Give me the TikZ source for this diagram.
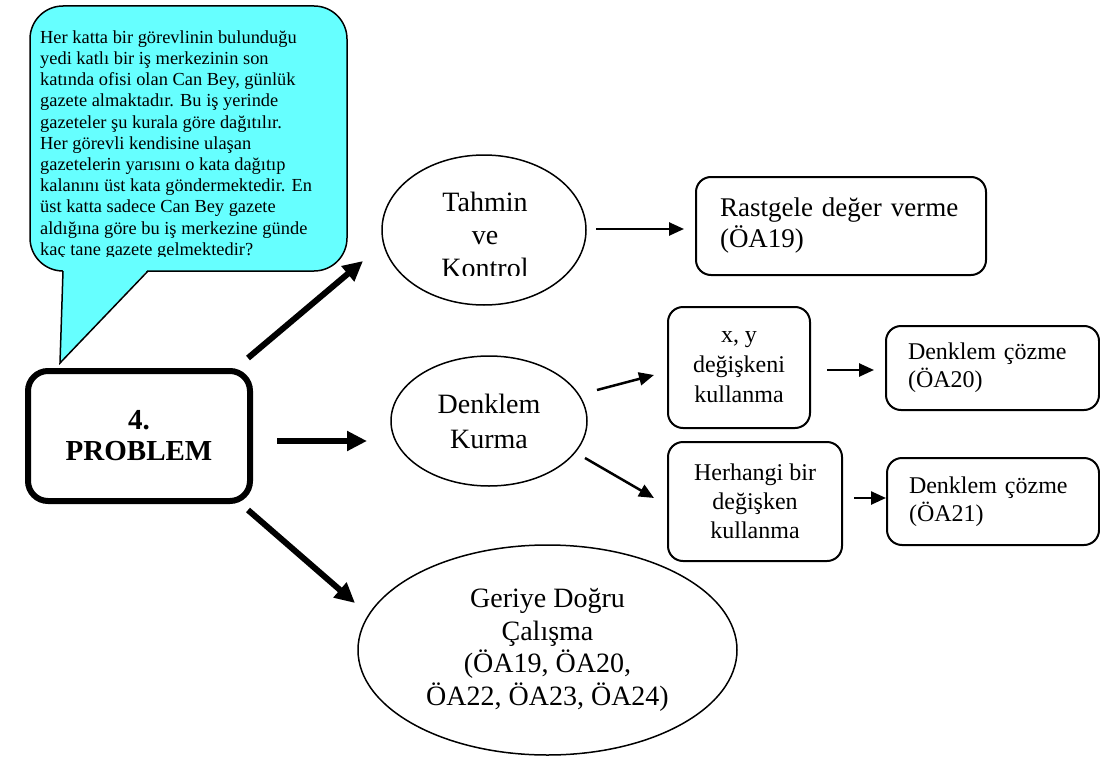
\documentclass[tikz,border=0pt]{standalone}
\usepackage{fontspec}
\setmainfont{Liberation Serif}
\usetikzlibrary{arrows.meta,shapes.geometric}
\definecolor{bubblecyan}{RGB}{102,255,255}
\tikzset{
  bubble/.style={draw=black, fill=bubblecyan, line width=1.5pt, rounded corners=33pt, inner sep=0pt, outer sep=0pt},
  bubbletext/.style={anchor=north west, inner sep=0pt, align=left, font=\fontsize{18.4}{21.2}\selectfont},
  problem/.style={draw=black, line width=6pt, rounded corners=20pt, minimum width=222pt, minimum height=130pt, inner sep=0pt, outer sep=0pt, align=center, font=\fontsize{29}{31}\selectfont\bfseries},
  method/.style={ellipse, draw=black, line width=1.5pt, inner sep=0pt, outer sep=0pt, align=center, font=\fontsize{28}{33}\selectfont},
  methodtext/.style={inner sep=0pt, align=center, font=\fontsize{28}{33}\selectfont},
  guessbox/.style={draw=black, line width=2pt, rounded corners=15pt, text width=242pt, inner xsep=24pt, inner ysep=0pt, minimum height=98pt, outer sep=0pt, align=left, font=\fontsize{27}{31}\selectfont},
  stepbox/.style={draw=black, line width=2pt, rounded corners=15pt, inner sep=0pt, outer sep=0pt, align=center, font=\fontsize{24}{29}\selectfont},
  resultbox/.style={draw=black, line width=2pt, rounded corners=15pt, text width=169pt, inner xsep=22pt, inner ysep=0pt, outer sep=0pt, align=left, font=\fontsize{24}{27.6}\selectfont},
  arrow/.style={-{Triangle[length=15pt,width=13pt]}, line width=2.5pt},
  bigarrow/.style={-{Triangle[length=20pt,width=19pt]}, line width=6pt}
}
\begin{document}
\begin{tikzpicture}[x=1pt, y=-1pt]
  \useasboundingbox (0,0) rectangle (1100,760);

  % speech bubble with the problem text
  \node[bubble, minimum width=317pt, minimum height=265pt, anchor=north west] (bubble) at (30,6) {};
  \coordinate (tip) at (60,363);
  \fill[bubblecyan] (63,269.5) -- (tip) -- (148,269.5) -- cycle;
  \draw[line width=1.5pt, line join=miter] (63,271) -- (tip) -- (148,271);
  \begin{scope}
    \clip (30,6) rectangle (347,256);
    \node[bubbletext] (story) at (40,30.3) {Her katta bir görevlinin bulunduğu\\
      yedi katlı bir iş merkezinin son\\
      katında ofisi olan Can Bey, günlük\\
      gazete almaktadır. Bu iş yerinde\\
      gazeteler şu kurala göre dağıtılır.\\
      Her görevli kendisine ulaşan\\
      gazetelerin yarısını o kata dağıtıp\\
      kalanını üst kata göndermektedir. En\\
      üst katta sadece Can Bey gazete\\
      aldığına göre bu iş merkezine günde\\
      kaç tane gazete gelmektedir?};
  \end{scope}

  \node[problem] (prob) at (139,436) {4.\\PROBLEM};

  % strategies
  \node[method, minimum width=204pt, minimum height=150pt] (tahmin) at (484,230) {};
  \begin{scope}
    \clip (380,150) rectangle (590,275);
    \node[methodtext, anchor=north] (tahmintext) at (485,192) {Tahmin\\ve\\Kontrol};
  \end{scope}
  \node[method, minimum width=196pt, minimum height=130pt, font=\fontsize{28}{35}\selectfont] (denk) at (489,421) {Denklem\\Kurma};
  \node[method, minimum width=379pt, minimum height=210pt, font=\fontsize{28}{32.5}\selectfont] (geri) at (547.5,650) {Geriye Doğru\\Çalışma\\(ÖA19, ÖA20,\\ÖA22, ÖA23, ÖA24)};

  % steps
  \node[guessbox] (rast) at (841,226) {Rastgele değer verme\\(ÖA19)};
  \node[stepbox, minimum width=142pt, minimum height=121pt, font=\fontsize{24}{30}\selectfont] (xy) at (739,367.5) {x, y\\değişkeni\\kullanma};
  \node[stepbox, minimum width=174pt, minimum height=119pt] (herh) at (755,501.5) {Herhangi bir\\değişken\\kullanma};
  \node[resultbox, minimum height=84pt] (dc1) at (992.5,368) {Denklem çözme\\(ÖA20)};
  \node[resultbox, text width=168pt, minimum height=87pt] (dc2) at (993,501.5) {Denklem çözme\\(ÖA21)};

  \draw[bigarrow] ([shift={(-2,-13)}]prob.north east) -- ([shift={(-19,31)}]tahmin.west);
  \draw[bigarrow] ([shift={(27,5)}]prob.east) -- ([shift={(-24,20)}]denk.west);
  \draw[bigarrow] ([shift={(-2,9)}]prob.south east) -- ([shift={(-3,-47)}]geri.west);
  \draw[arrow] ([shift={(10,-1)}]tahmin.east) -- ([shift={(-12,3)}]rast.west);
  \draw[arrow] ([shift={(10,-31)}]denk.east) -- ([shift={(-14,7.5)}]xy.west);
  \draw[arrow] ([shift={(-2,37)}]denk.east) -- ([shift={(-14,-3.5)}]herh.west);
  \draw[arrow] ([shift={(17,2.5)}]xy.east) -- ([shift={(-12,2)}]dc1.west);
  \draw[arrow] ([shift={(12,-3.5)}]herh.east) -- ([shift={(-1,-3.5)}]dc2.west);
\end{tikzpicture}
\end{document}
